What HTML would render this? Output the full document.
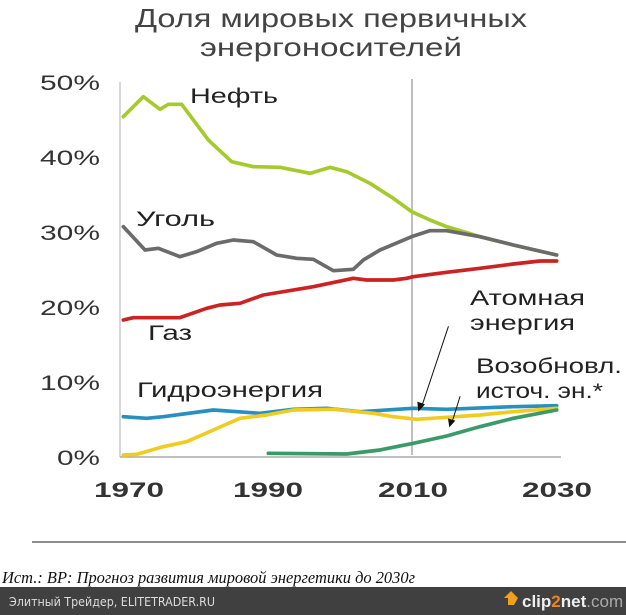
<!DOCTYPE html>
<html><head><meta charset="utf-8"><style>
body{margin:0;width:626px;height:615px;background:#fff;overflow:hidden;position:relative;font-family:"Liberation Sans",sans-serif}
</style></head><body>
<svg width="626" height="615" style="position:absolute;left:0;top:0">
<g font-family="Liberation Sans, sans-serif">
<text x="135" y="27" font-size="26" fill="#444" textLength="392" lengthAdjust="spacingAndGlyphs">Доля мировых первичных</text>
<text x="200" y="56" font-size="26" fill="#444" textLength="262" lengthAdjust="spacingAndGlyphs">энергоносителей</text>
<g font-size="21" fill="#333">
<text x="40" y="90" textLength="60" lengthAdjust="spacingAndGlyphs">50%</text>
<text x="40" y="165" textLength="60" lengthAdjust="spacingAndGlyphs">40%</text>
<text x="40" y="240" textLength="60" lengthAdjust="spacingAndGlyphs">30%</text>
<text x="40" y="315" textLength="60" lengthAdjust="spacingAndGlyphs">20%</text>
<text x="40" y="390" textLength="60" lengthAdjust="spacingAndGlyphs">10%</text>
<text x="57" y="465" textLength="43" lengthAdjust="spacingAndGlyphs">0%</text>
</g>
<g font-size="21" fill="#333" font-weight="bold">
<text x="94" y="497" textLength="70" lengthAdjust="spacingAndGlyphs">1970</text>
<text x="233" y="497" textLength="70" lengthAdjust="spacingAndGlyphs">1990</text>
<text x="378" y="497" textLength="70" lengthAdjust="spacingAndGlyphs">2010</text>
<text x="522" y="497" textLength="70" lengthAdjust="spacingAndGlyphs">2030</text>
</g>
</g>
<line x1="120" y1="82" x2="120" y2="457" stroke="#ccc" stroke-width="1.5"/>
<line x1="120" y1="457" x2="561" y2="457" stroke="#aaa" stroke-width="1.5"/>
<line x1="412" y1="79" x2="412" y2="455" stroke="#aaa" stroke-width="1.5"/>
<g transform="translate(80,60) scale(0.33333)" fill="none" stroke-width="11" stroke-linejoin="round" stroke-linecap="round">
<polyline stroke="#a6ca2e" points="130,170 190,110 240,148 265,133 305,133 385,240 455,305 520,320 600,322 690,340 750,322 800,335 870,370 940,415 995,455 1050,480 1100,500 1200,530 1300,555 1430,585"/>
<polyline stroke="#6b6b6b" points="130,500 195,570 235,565 300,590 350,575 410,550 460,540 520,545 590,585 650,595 700,598 760,632 820,628 850,600 900,570 995,530 1050,512 1100,512 1200,530 1300,555 1430,585"/>
<polyline stroke="#cc2222" points="130,780 160,773 300,773 380,745 420,735 480,730 550,705 700,680 820,655 860,660 940,660 980,655 1000,650 1100,637 1200,625 1300,612 1380,603 1430,603"/>
<polyline stroke="#2890c0" points="130,1070 200,1075 250,1070 400,1050 540,1060 640,1048 740,1045 840,1055 1000,1045 1100,1048 1300,1040 1430,1037"/>
<polyline stroke="#f0cc20" points="130,1185 170,1183 250,1160 320,1145 400,1110 480,1075 560,1065 640,1050 760,1048 880,1060 940,1070 1010,1078 1100,1072 1200,1065 1300,1055 1430,1045"/>
<polyline stroke="#3a9a6a" points="565,1180 800,1182 900,1170 1000,1150 1100,1128 1200,1100 1300,1075 1430,1050"/>
<g stroke="#111" stroke-width="3"><line x1="1105" y1="800" x2="1025" y2="1040"/><line x1="1140" y1="1010" x2="1115" y2="1090"/></g>
<g fill="#111" stroke="none"><polygon points="1015,1055 1012,1025 1035,1033"/><polygon points="1108,1102 1104,1075 1126,1082"/></g>
</g>
<g font-family="Liberation Sans, sans-serif" font-size="21" fill="#222">
<text x="190" y="103" textLength="88" lengthAdjust="spacingAndGlyphs">Нефть</text>
<text x="136" y="226" textLength="79" lengthAdjust="spacingAndGlyphs">Уголь</text>
<text x="148" y="340" textLength="44" lengthAdjust="spacingAndGlyphs">Газ</text>
<text x="137" y="397" textLength="186" lengthAdjust="spacingAndGlyphs">Гидроэнергия</text>
<text x="470" y="305" textLength="115" lengthAdjust="spacingAndGlyphs">Атомная</text>
<text x="470" y="330" textLength="105" lengthAdjust="spacingAndGlyphs">энергия</text>
<text x="476" y="373" textLength="146" lengthAdjust="spacingAndGlyphs">Возобновл.</text>
<text x="476" y="398" textLength="127" lengthAdjust="spacingAndGlyphs">источ. эн.*</text>
</g>
<line x1="32" y1="542" x2="626" y2="542" stroke="#666" stroke-width="1.5"/>
<text x="2" y="583" font-family="Liberation Serif, serif" font-style="italic" font-size="17" fill="#111" textLength="413" lengthAdjust="spacingAndGlyphs">Ист.: BP: Прогноз развития мировой энергетики до 2030г</text>
<rect x="0" y="587" width="626" height="28" fill="#404040"/>
<text x="9" y="606" font-family="DejaVu Sans, sans-serif" font-size="12" fill="#ddd" textLength="206" lengthAdjust="spacingAndGlyphs">Элитный Трейдер, ELITETRADER.RU</text>
<polygon points="508,605 508,598 504,598 511,591 518,598 514,605" fill="#f0a020"/>
<text x="522" y="607" font-family="Liberation Sans, sans-serif" font-size="17" font-weight="bold" fill="#eee">clip<tspan fill="#f08020">2</tspan>net<tspan fill="#aaa" font-weight="normal">.com</tspan></text>
</svg>
</body></html>
